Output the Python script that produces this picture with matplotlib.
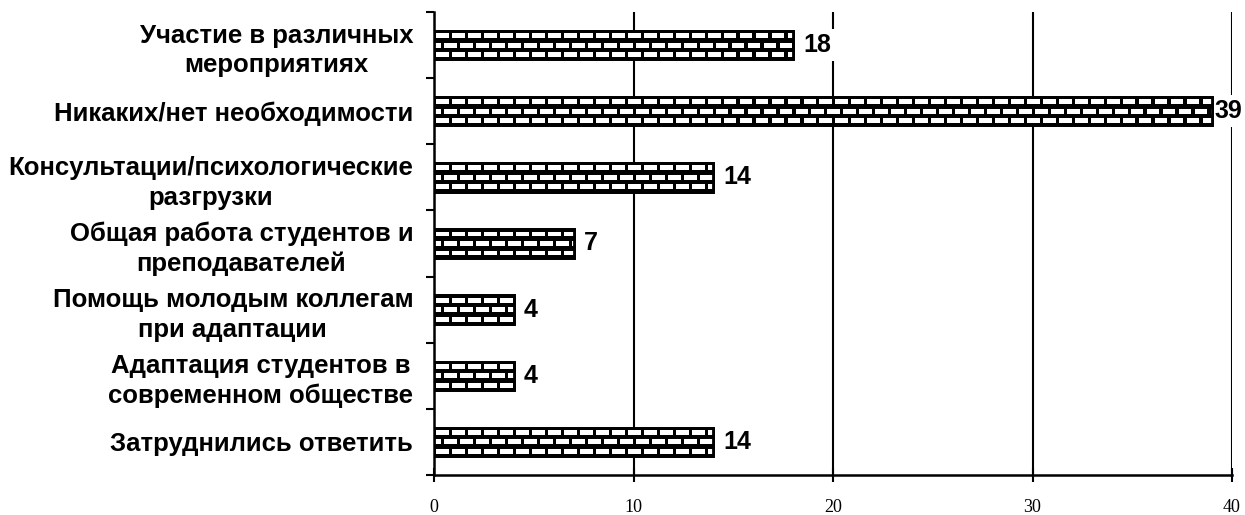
import matplotlib.pyplot as plt
from matplotlib.patches import Rectangle
import numpy as np

categories = [
    "Участие в различных\nмероприятиях",
    "Никаких/нет необходимости",
    "Консультации/психологические\nразгрузки",
    "Общая работа студентов и\nпреподавателей",
    "Помощь молодым коллегам\nпри адаптации",
    "Адаптация студентов в\nсовременном обществе",
    "Затруднились ответить",
]
values = [18, 39, 14, 7, 4, 4, 14]
xticks = [0, 10, 20, 30, 40]


def brick_bar(ax, y, w, h):
    # black bar with white "bricks" on top, clipped to the bar
    bar = Rectangle((0, y - h / 2), w, h, facecolor="black", edgecolor="black",
                    lw=2, zorder=3)
    ax.add_patch(bar)
    pitch_x, bw = 0.8, 0.64
    rows = 3
    row_h = h / rows
    bh = row_h * 0.52
    for r in range(rows):
        yc = y - h / 2 + row_h * (r + 0.5)
        off = 0 if r % 2 == 0 else pitch_x / 2
        x = -pitch_x + off + 0.12
        while x < w:
            b = Rectangle((x, yc - bh / 2), bw, bh, facecolor="white",
                          edgecolor="none", zorder=4)
            ax.add_patch(b)
            b.set_clip_path(bar)
            x += pitch_x
    edge = Rectangle((0, y - h / 2), w, h, facecolor="none", edgecolor="black",
                     lw=2, zorder=5)
    ax.add_patch(edge)


fig = plt.figure(figsize=(12.45, 5.15), dpi=100)
ax = fig.add_axes([0.3486, 0.0777, 0.641, 0.899])

ypos = np.arange(len(categories))
for yi, v in zip(ypos, values):
    brick_bar(ax, yi, v, 0.43)
    # white box hides the grid line behind the label, bars stay on top
    ax.text(min(v + 0.5, 39.1), yi, str(v), va="center", ha="left",
            fontsize=18, fontweight="bold", family="Liberation Sans",
            zorder=2, bbox=dict(facecolor="white", edgecolor="none", pad=3))

ax.set_xlim(0, 40)
ax.set_ylim(len(categories) - 0.5, -0.5)
ax.set_xticks(xticks)
ax.set_xticklabels([str(t) for t in xticks], family="Liberation Serif",
                   fontsize=13)
ax.set_yticks(ypos)
ax.set_yticklabels(categories, family="Liberation Sans", fontweight="bold",
                   fontsize=18.5, linespacing=1.3)
for lbl in ax.get_yticklabels():
    lbl.set_multialignment("center")
ax.set_yticks(np.arange(len(categories) + 1) - 0.5, minor=True)
ax.tick_params(axis="y", which="major", length=0, pad=15)
ax.tick_params(axis="y", which="minor", length=6, width=1.5, direction="out")
ax.tick_params(axis="x", length=10, width=1.5, direction="inout", pad=12)

ax.xaxis.grid(True, color="black", lw=1.5, zorder=1)
ax.set_axisbelow(True)
for s in ["top", "right"]:
    ax.spines[s].set_visible(False)
for s in ["left", "bottom"]:
    ax.spines[s].set_linewidth(1.8)

fig.savefig("out.png", dpi=100)
